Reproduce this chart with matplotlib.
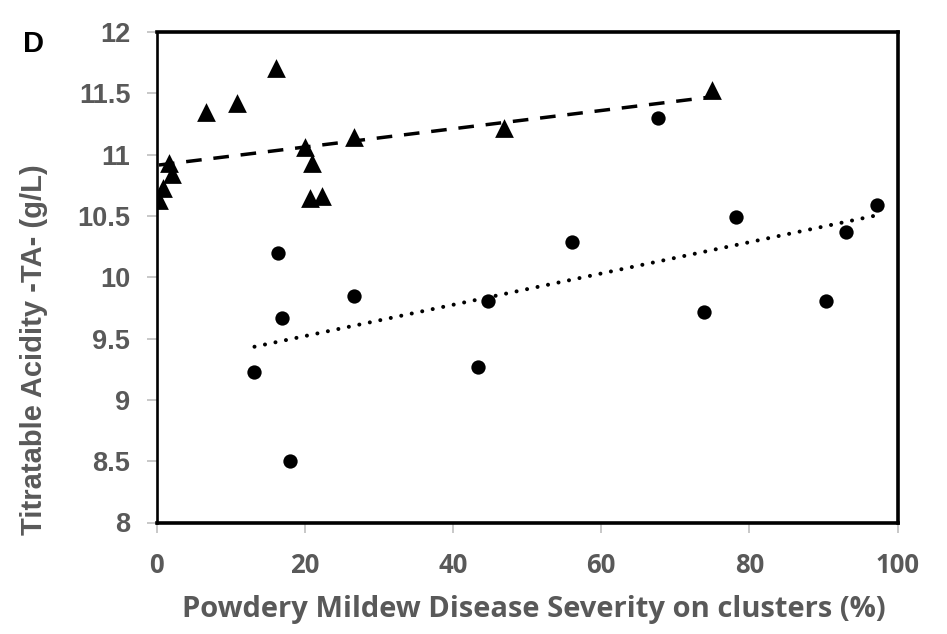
import numpy as np
import matplotlib
matplotlib.use("Agg")
import matplotlib.pyplot as plt

# Triangles (series 1)
tri_x = [0.3, 0.9, 1.7, 2.0, 6.7, 10.9, 16.1, 20.0, 20.7, 21.0, 22.3, 26.6, 46.9, 74.9]
tri_y = [10.63, 10.73, 10.93, 10.84, 11.35, 11.42, 11.71, 11.06, 10.65, 10.93, 10.66, 11.14, 11.22, 11.53]

# Circles (series 2)
cir_x = [13.2, 16.4, 16.9, 18.0, 26.7, 43.4, 44.7, 56.1, 67.7, 73.9, 78.2, 90.3, 93.1, 97.3]
cir_y = [9.23, 10.20, 9.67, 8.50, 9.85, 9.27, 9.81, 10.29, 11.30, 9.72, 10.49, 9.81, 10.37, 10.59]

x_ticks = [0, 20, 40, 60, 80, 100]
y_ticks = [8, 8.5, 9, 9.5, 10, 10.5, 11, 11.5, 12]
y_tick_labels = ["8", "8.5", "9", "9.5", "10", "10.5", "11", "11.5", "12"]

W, H = 947, 634
fig = plt.figure(figsize=(W / 100, H / 100), dpi=100, facecolor="white")
ax = fig.add_axes([156.7 / W, 1 - 522.5 / H, (897.5 - 156.7) / W, (522.5 - 32) / H])

ax.scatter(tri_x, tri_y, marker="^", s=13.5**2, color="black", zorder=3, linewidths=0)
ax.scatter(cir_x, cir_y, marker="o", s=10.3**2, color="black", zorder=3, linewidths=0)

# linear trendlines over each series range
for xs, ys, style in [(tri_x, tri_y, "dash"), (cir_x, cir_y, "dot")]:
    xs = np.asarray(xs); ys = np.asarray(ys)
    m, b = np.polyfit(xs, ys, 1)
    xx = np.array([xs.min(), xs.max()])
    if style == "dash":
        ax.plot(xx, m * xx + b, color="black", lw=2.5, dashes=(4.5, 3.4), zorder=2)
    else:
        ax.plot(xx, m * xx + b, color="black", lw=2.9, dashes=(0.01, 2.65),
                dash_capstyle="round", zorder=2)

ax.set_xlim(0, 100)
ax.set_ylim(8, 12)
ax.set_xticks(x_ticks)
ax.set_yticks(y_ticks)
ax.set_yticklabels(y_tick_labels)

for side in ["top", "right", "bottom"]:
    ax.spines[side].set_linewidth(2.6)
    ax.spines[side].set_color("black")
ax.spines["left"].set_linewidth(1.9)
ax.spines["left"].set_color("black")

ax.tick_params(axis="both", direction="out", color="#BFBFBF", width=1.2, length=7,
               labelcolor="#595959")
ax.tick_params(axis="y", pad=12)
ax.tick_params(axis="x", pad=14)
for lab in ax.get_yticklabels():
    lab.set_fontfamily("Liberation Sans")
    lab.set_fontweight("bold")
    lab.set_fontsize(19.5)
for lab in ax.get_xticklabels():
    lab.set_fontfamily("Open Sans")
    lab.set_fontweight("bold")
    lab.set_fontsize(18.5)

fig.text(34 / W, 1 - 350 / H, "Titratable Acidity -TA- (g/L)", rotation=90,
         ha="center", va="center", fontsize=21, fontweight="bold",
         color="#595959", family="Liberation Sans")
fig.text(534 / W, 1 - 610 / H, "Powdery Mildew Disease Severity on clusters (%)",
         ha="center", va="center", fontsize=21, fontweight="bold",
         color="#595959", family="Open Sans")
fig.text(33 / W, 1 - 44 / H, "D", ha="center", va="center", fontsize=21,
         fontweight="bold", color="black", family="Liberation Sans")

fig.savefig("out.png", dpi=100, facecolor="white")
